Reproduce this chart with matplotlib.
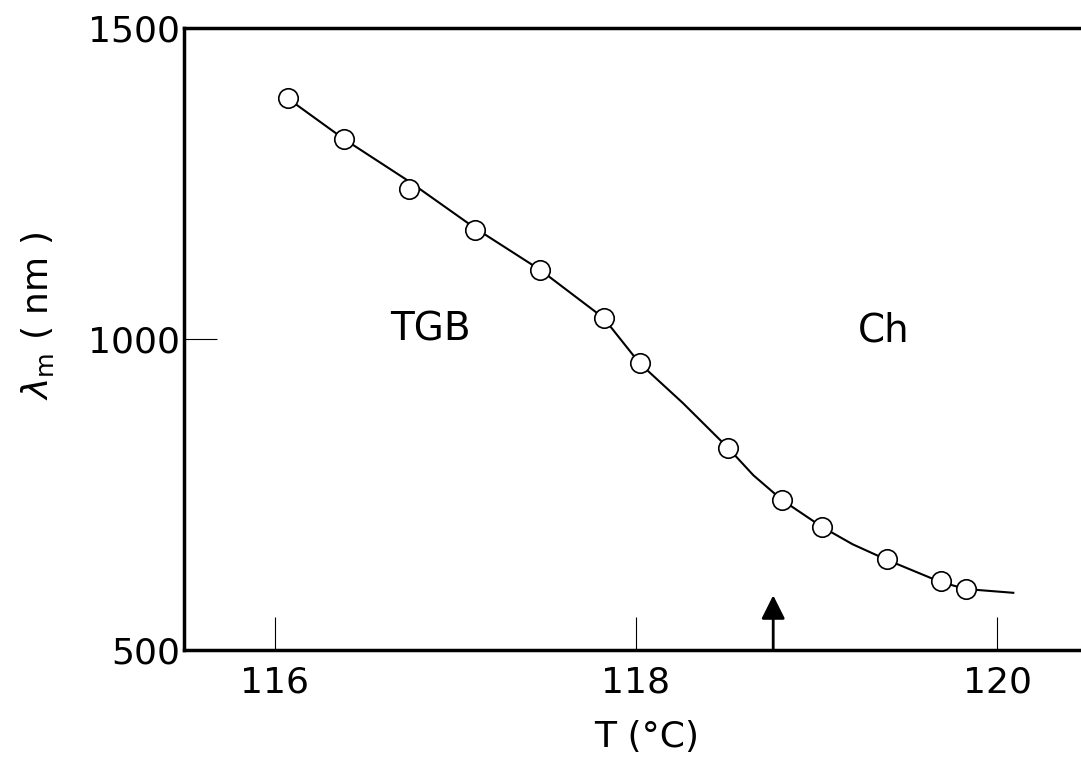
"""Pitch wavelength vs temperature (TGB -> Ch), redrawn headless."""

import matplotlib

matplotlib.use("Agg")

import matplotlib.pyplot as plt

temp_c = [116.07, 116.38, 116.74, 117.11, 117.47, 117.82, 118.02,
          118.51, 118.81, 119.03, 119.39, 119.69, 119.83]
lambda_nm = [1387, 1322, 1241, 1175, 1111, 1034, 961,
             825, 741, 698, 646, 611, 598]

# hand-drawn guide curve
curve_t = [116.07, 116.38, 116.74, 117.11, 117.47, 117.82, 118.02, 118.26,
           118.51, 118.65, 118.81, 119.03, 119.20, 119.39, 119.69, 119.83, 120.09]
curve_l = [1387, 1322, 1254, 1178, 1111, 1034, 961, 897,
           825, 781, 741, 698, 670, 645, 609, 598, 592]

x_ticks = [116, 118, 120]
y_ticks = [500, 1000, 1500]
transition_t = 118.76

plt.rcParams["font.family"] = ["DejaVu Sans"]
plt.rcParams["mathtext.fontset"] = "dejavusans"

fig = plt.figure(figsize=(10.81, 7.66), dpi=100)
ax = fig.add_axes([0.1702, 0.1514, 0.8298, 0.812])

ax.plot(curve_t, curve_l, color="black", lw=1.5, zorder=2)
ax.plot(temp_c, lambda_nm, "o", ms=14, mfc="white", mec="black", mew=1.2, zorder=3)

# phase transition marker
ax.annotate("", xy=(transition_t, 588), xytext=(transition_t, 500),
            arrowprops=dict(arrowstyle="-|>,head_length=0.72,head_width=0.36",
                            mutation_scale=20, lw=2, color="black",
                            shrinkA=0, shrinkB=0))

ax.text(116.86, 1016, "TGB", fontsize=28, ha="center", va="center")
ax.text(119.37, 1014, "Ch", fontsize=28, ha="center", va="center")

ax.set_xlim(115.496, 120.465)
ax.set_ylim(500, 1500)
ax.set_xticks(x_ticks)
ax.set_yticks(y_ticks)
ax.tick_params(direction="in", length=24, width=0.8, labelsize=26)
ax.tick_params(axis="x", pad=11)
ax.tick_params(axis="y", pad=3)

ax.spines["right"].set_visible(False)
for side in ("left", "top", "bottom"):
    ax.spines[side].set_linewidth(2.5)

ax.set_xlabel("T (°C)", fontsize=26)
ax.set_ylabel(r"$\lambda_{\rm m}$ ( nm )", fontsize=26)
ax.xaxis.set_label_coords(0.516, -0.113)
ax.yaxis.set_label_coords(-0.143, 0.537)

fig.savefig("out.png", dpi=100)
plt.close(fig)
